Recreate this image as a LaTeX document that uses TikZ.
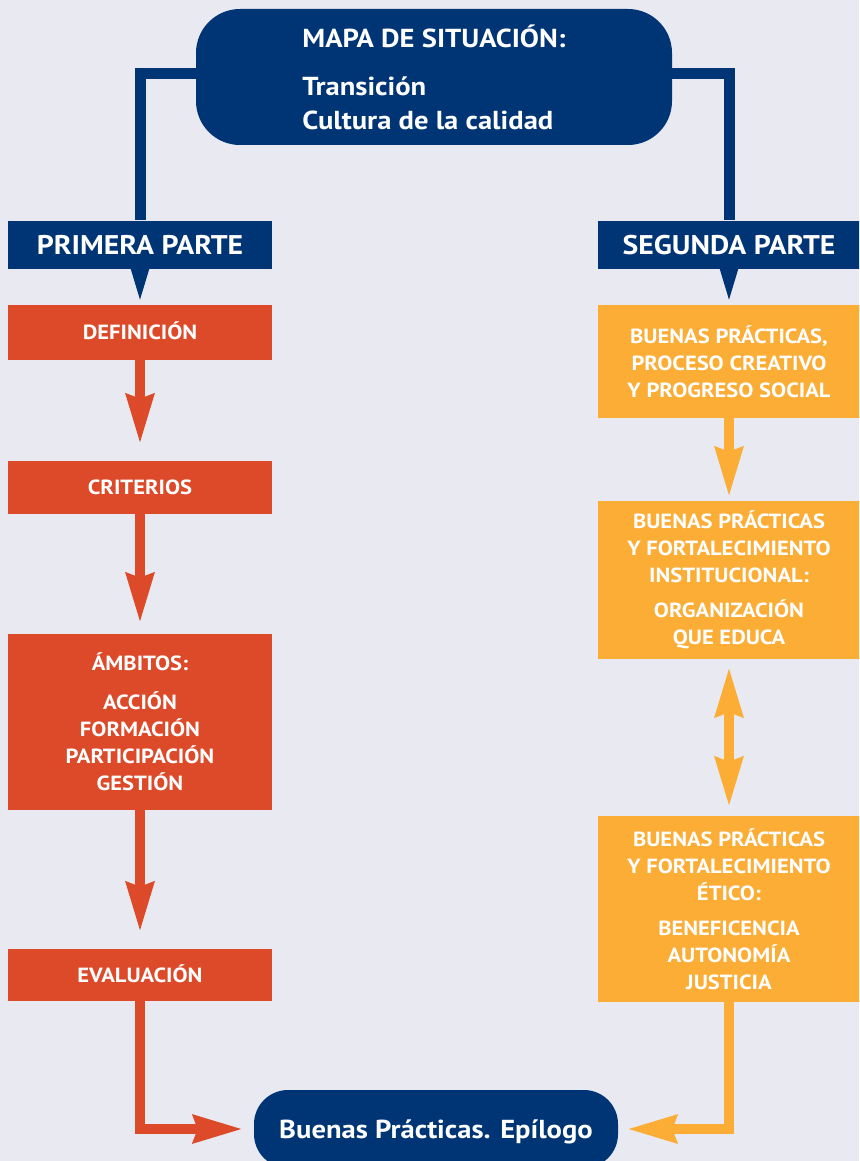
\documentclass[tikz,border=0pt]{standalone}
\usepackage{fontspec}
\setmainfont{PT Sans}[FakeStretch=1.1]
\usetikzlibrary{arrows.meta}
\definecolor{navy}{HTML}{003575}
\definecolor{redc}{HTML}{DC4A29}
\definecolor{orc}{HTML}{FBAD36}
\definecolor{bgc}{HTML}{E8E9F1}
\tikzset{
  box/.style={rectangle, inner sep=0pt, text=white, align=center,
    font=\bfseries\fontsize{20.5}{27}\selectfont},
  redbox/.style={box, fill=redc, minimum width=264pt},
  orbox/.style={box, fill=orc, minimum width=262pt},
  partbox/.style={box, fill=navy, minimum width=264pt, minimum height=48pt,
    font=\bfseries\fontsize{27}{30}\selectfont, text height=19pt, text depth=0pt},
  redarrow/.style={draw=redc, line width=10pt, -{Stealth[length=49pt,width=27pt,inset=4pt]}},
  orarrow/.style={draw=orc, line width=10pt, -{Stealth[length=49pt,width=27pt,inset=4pt]}},
  navyline/.style={draw=navy, line width=11pt},
}
\begin{document}
\begin{tikzpicture}[x=1pt,y=-1pt]
\fill[bgc] (0,0) rectangle (859,1161);
\useasboundingbox (0,0) rectangle (859,1161);
\clip (0,0) rectangle (859,1161);

\node[box, fill=navy, minimum width=476pt, minimum height=136pt, rounded corners=44pt,
  align=left, font=\bfseries\fontsize{26}{34}\selectfont] (top) at (434,77)
  {MAPA DE SITUACIÓN:\\[14pt]Transición\\Cultura de la calidad};

\node[partbox] (prim) at (140,244.5) {PRIMERA PARTE};
\node[partbox, minimum width=262pt] (seg) at (729,244.5) {SEGUNDA PARTE};

\node[redbox, minimum height=55pt, text height=14.5pt, text depth=0pt] (def) at (140,332.5) {DEFINICIÓN};
\node[redbox, minimum height=53pt, text height=14.5pt, text depth=0pt] (crit) at (140,487.5) {CRITERIOS};
\node[redbox, minimum height=176pt] (amb) at (140,722) {ÁMBITOS:\\[12pt]ACCIÓN\\FORMACIÓN\\PARTICIPACIÓN\\GESTIÓN};
\node[redbox, minimum height=52pt, text height=14.5pt, text depth=0pt] (eval) at (140,975) {EVALUACIÓN};

\node[orbox, minimum height=113pt] (ob1) at (729,361.5) {BUENAS PRÁCTICAS,\\PROCESO CREATIVO\\Y PROGRESO SOCIAL};
\node[orbox, minimum height=158pt] (ob2) at (729,580) {BUENAS PRÁCTICAS\\Y FORTALECIMIENTO\\INSTITUCIONAL:\\[8pt]ORGANIZACIÓN\\QUE EDUCA};
\node[orbox, minimum height=186pt] (ob3) at (729,909) {BUENAS PRÁCTICAS\\Y FORTALECIMIENTO\\ÉTICO:\\[8pt]BENEFICENCIA\\AUTONOMÍA\\JUSTICIA};

\node[box, fill=navy, minimum width=364pt, minimum height=78pt, rounded corners=34pt,
  font=\bfseries\fontsize{26}{30}\selectfont, text height=18.5pt, text depth=0pt] (epi) at (436,1129)
  {Buenas Prácticas. Epílogo};

% navy connectors
\draw[navyline] ([yshift=3.5pt]top.west) -| (prim.north);
\draw[navyline] ([yshift=3.5pt]top.east) -| (seg.north);
\fill[navy] ([xshift=-9.5pt,yshift=0.5pt]prim.south) -- ([xshift=9.5pt,yshift=0.5pt]prim.south) -- ([yshift=-31pt]prim.south) -- cycle;
\fill[navy] ([xshift=-9.5pt,yshift=0.5pt]seg.south) -- ([xshift=9.5pt,yshift=0.5pt]seg.south) -- ([yshift=-31pt]seg.south) -- cycle;

% red arrows
\draw[redarrow, shorten >=17pt] (def.south) -- (crit.north);
\draw[redarrow, shorten >=11pt] (crit.south) -- (amb.north);
\draw[redarrow, shorten >=17pt] (amb.south) -- (eval.north);
\draw[redarrow, shorten >=11pt] (eval.south) |- (epi.west);

% orange arrows
\draw[orarrow, shorten >=4pt] (ob1.south) -- (ob2.north);
\draw[orarrow, {Stealth[length=49pt,width=27pt,inset=4pt]}-{Stealth[length=49pt,width=27pt,inset=4pt]}, shorten <=8pt, shorten >=9pt] (ob2.south) -- (ob3.north);
\draw[orarrow, shorten >=9pt] (ob3.south) |- (epi.east);
\end{tikzpicture}
\end{document}
